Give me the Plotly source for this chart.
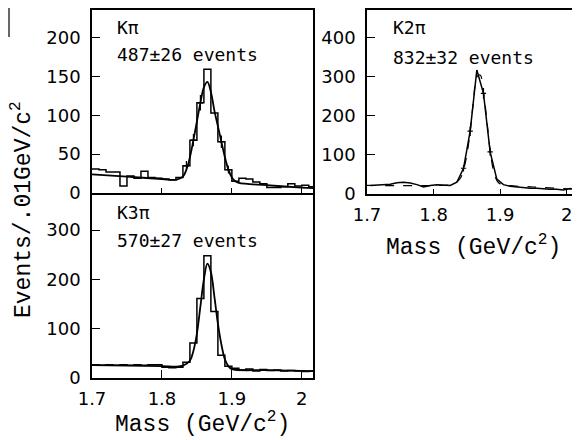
import plotly.graph_objects as go

# ---------------- data ----------------
bin_edges = [round(1.70 + 0.01 * i, 2) for i in range(33)]
bin_centers = [round(1.705 + 0.01 * i, 3) for i in range(32)]

kpi_hist = [31, 30, 27, 27, 9, 22, 19, 28, 20, 19, 18, 17, 20, 35, 68, 116,
            159, 103, 66, 30, 15, 19, 18, 14, 12, 7, 7, 8, 12, 9, 10, 8]
kpi_fit_x = [1.70, 1.75, 1.80, 1.82, 1.83, 1.835, 1.84, 1.845, 1.85, 1.855, 1.86, 1.865,
             1.87, 1.875, 1.88, 1.885, 1.89, 1.895, 1.90, 1.905, 1.91, 1.95, 2.00, 2.02]
kpi_fit_y = [24, 21, 18, 17, 21, 30, 46, 68, 92, 116, 136, 143,
             130, 106, 86, 66, 46, 30, 20, 15, 13, 10, 7, 6]
kpi_err_x = [1.835, 1.845, 1.855, 1.885, 1.895]
kpi_err_y = [35, 68, 116, 66, 30]
kpi_err = [6, 8, 10, 8, 5]

k3pi_hist = [27, 26, 27, 26, 27, 26, 27, 26, 27, 27, 22, 21, 22, 32, 71, 161,
             248, 135, 46, 24, 20, 16, 18, 14, 17, 15, 16, 14, 15, 14, 13, 14]
k3pi_fit_x = [1.70, 1.80, 1.82, 1.83, 1.84, 1.845, 1.85, 1.855, 1.86, 1.865, 1.87,
              1.875, 1.88, 1.885, 1.89, 1.895, 1.90, 1.95, 2.02]
k3pi_fit_y = [26, 24, 23, 25, 35, 55, 90, 145, 200, 232, 215,
              165, 110, 68, 38, 24, 18, 16, 14]

k2pi_data = [22, 23, 24, 25, 29, 30, 28, 24, 18, 22, 24, 23, 22, 30, 66, 161,
             318, 258, 108, 38, 24, 20, 18, 17, 15, 15, 13, 12, 12, 10, 14, 10]
k2pi_fit_x = [1.70, 1.80, 1.83, 1.84, 1.845, 1.85, 1.855, 1.86, 1.865, 1.87, 1.875,
              1.88, 1.885, 1.89, 1.895, 1.90, 1.95, 2.02]
k2pi_fit_y = [22, 22, 26, 40, 62, 100, 160, 240, 300, 305, 262,
              190, 112, 60, 35, 26, 18, 12]
k2pi_err_x = [1.845, 1.855, 1.875, 1.885]
k2pi_err_y = [66, 161, 258, 108]
k2pi_err = [8, 12, 14, 10]

labels = {
    "kpi": ("Kπ", "487±26 events"),
    "k3pi": ("K3π", "570±27 events"),
    "k2pi": ("K2π", "832±32 events"),
}

# ---------------- figure ----------------
# the page body has an 8px margin, so the figure is 8px smaller and
# positions below are given in window pixels, shifted by that margin
OFF = 8
W, H = 580 - OFF, 440 - OFF
fig = go.Figure()


def px(x):
    return (x - OFF) / W


def py(y):
    return 1 - (y - OFF) / H


def step(vals):
    return vals + [vals[-1]]


BLACK = "black"

# K pi (top left): axes x, y
fig.add_trace(go.Scatter(x=bin_edges, y=step(kpi_hist), mode="lines", line_shape="hv",
                         line=dict(color=BLACK, width=1.5), xaxis="x", yaxis="y"))
fig.add_trace(go.Scatter(x=kpi_fit_x, y=kpi_fit_y, mode="lines", line_shape="spline",
                         line=dict(color=BLACK, width=1.8), xaxis="x", yaxis="y"))
fig.add_trace(go.Scatter(x=kpi_err_x, y=kpi_err_y, mode="markers", marker=dict(size=1, color=BLACK),
                         error_x=dict(type="constant", value=0.004, width=0, color=BLACK, thickness=1.2),
                         error_y=dict(type="data", array=kpi_err, width=0, color=BLACK, thickness=1.2),
                         xaxis="x", yaxis="y"))

# K 3pi (bottom left): axes x2, y2
fig.add_trace(go.Scatter(x=bin_edges, y=step(k3pi_hist), mode="lines", line_shape="hv",
                         line=dict(color=BLACK, width=1.5), xaxis="x2", yaxis="y2"))
fig.add_trace(go.Scatter(x=k3pi_fit_x, y=k3pi_fit_y, mode="lines", line_shape="spline",
                         line=dict(color=BLACK, width=1.8), xaxis="x2", yaxis="y2"))

# K 2pi (top right): axes x3, y3
fig.add_trace(go.Scatter(x=bin_centers, y=k2pi_data, mode="lines",
                         line=dict(color=BLACK, width=1.5), xaxis="x3", yaxis="y3"))
fig.add_trace(go.Scatter(x=k2pi_fit_x, y=k2pi_fit_y, mode="lines", line_shape="spline",
                         line=dict(color=BLACK, width=1.2, dash="dash"), xaxis="x3", yaxis="y3"))
fig.add_trace(go.Scatter(x=k2pi_err_x, y=k2pi_err_y, mode="markers", marker=dict(size=1, color=BLACK),
                         error_x=dict(type="constant", value=0.004, width=0, color=BLACK, thickness=1.2),
                         error_y=dict(type="data", array=k2pi_err, width=0, color=BLACK, thickness=1.2),
                         xaxis="x3", yaxis="y3"))

tickfont = dict(family="DejaVu Sans", size=18, color=BLACK)
common_axis = dict(showline=True, linecolor=BLACK, linewidth=1.5, mirror=True,
                   showgrid=False, zeroline=False, ticks="inside", tickcolor=BLACK,
                   tickfont=tickfont, fixedrange=True, automargin=False)

xL = [px(92), px(313)]
xR = [px(367), px(580)]

fig.update_layout(
    template="none",
    width=W, height=H, autosize=False,
    margin=dict(l=0, r=0, t=0, b=0, pad=0),
    paper_bgcolor="white", plot_bgcolor="white",
    showlegend=False,
    xaxis=dict(domain=xL, range=[1.7, 2.016], anchor="y", tickvals=[1.8, 1.9, 2.0],
               showticklabels=False, ticklen=5, **common_axis),
    yaxis=dict(domain=[py(193), py(9.5)], range=[0, 236], anchor="x",
               tickvals=[0, 50, 100, 150, 200], ticklen=8, ticklabelstandoff=6, **common_axis),
    xaxis2=dict(domain=xL, range=[1.7, 2.016], anchor="y2", tickvals=[1.7, 1.8, 1.9, 2.0],
                ticktext=["1.7", "1.8", "1.9", "2"], ticklen=8, ticklabelstandoff=4, **common_axis),
    yaxis2=dict(domain=[py(378), py(194.5)], range=[0, 372], anchor="x2",
                tickvals=[0, 100, 200, 300], ticklen=8, ticklabelstandoff=6, **common_axis),
    xaxis3=dict(domain=xR, range=[1.7, 2.02], anchor="y3", tickvals=[1.7, 1.8, 1.9, 2.0],
                ticktext=["1.7", "1.8", "1.9", "2"], ticklen=5, ticklabelstandoff=4, **common_axis),
    yaxis3=dict(domain=[py(194), py(9.5)], range=[0, 473], anchor="x3",
                tickvals=[0, 100, 200, 300, 400], ticklen=8, ticklabelstandoff=6, **common_axis),
)

lab_font = dict(family="DejaVu Sans Mono", size=18, color=BLACK)
title_font = dict(family="Liberation Mono", size=23, color=BLACK)

annots = [
    (115, 27, labels["kpi"][0]), (115, 55, labels["kpi"][1]),
    (115, 213, labels["k3pi"][0]), (115, 240, labels["k3pi"][1]),
    (391, 28, labels["k2pi"][0]), (391, 57, labels["k2pi"][1]),
]
for x, y, t in annots:
    fig.add_annotation(x=px(x), y=py(y), xref="paper", yref="paper", text=t,
                       showarrow=False, xanchor="left", yanchor="middle", font=lab_font)

fig.add_annotation(x=px(22), y=py(210), xref="paper", yref="paper",
                   text="Events/.01GeV/c<sup>2</sup>", textangle=-90, showarrow=False,
                   xanchor="center", yanchor="middle", font=title_font)
fig.add_annotation(x=px(202), y=py(423), xref="paper", yref="paper",
                   text="Mass (GeV/c<sup>2</sup>)", showarrow=False,
                   xanchor="center", yanchor="middle", font=title_font)
fig.add_annotation(x=px(473), y=py(246), xref="paper", yref="paper",
                   text="Mass (GeV/c<sup>2</sup>)", showarrow=False,
                   xanchor="center", yanchor="middle", font=title_font)

# scan fragment at top-left corner (as close to the window edge as the page allows)
fig.add_shape(type="line", xref="paper", yref="paper", x0=px(9), x1=px(9), y0=1, y1=py(37),
              line=dict(color=BLACK, width=1.2))

fig.write_html("out.html")
